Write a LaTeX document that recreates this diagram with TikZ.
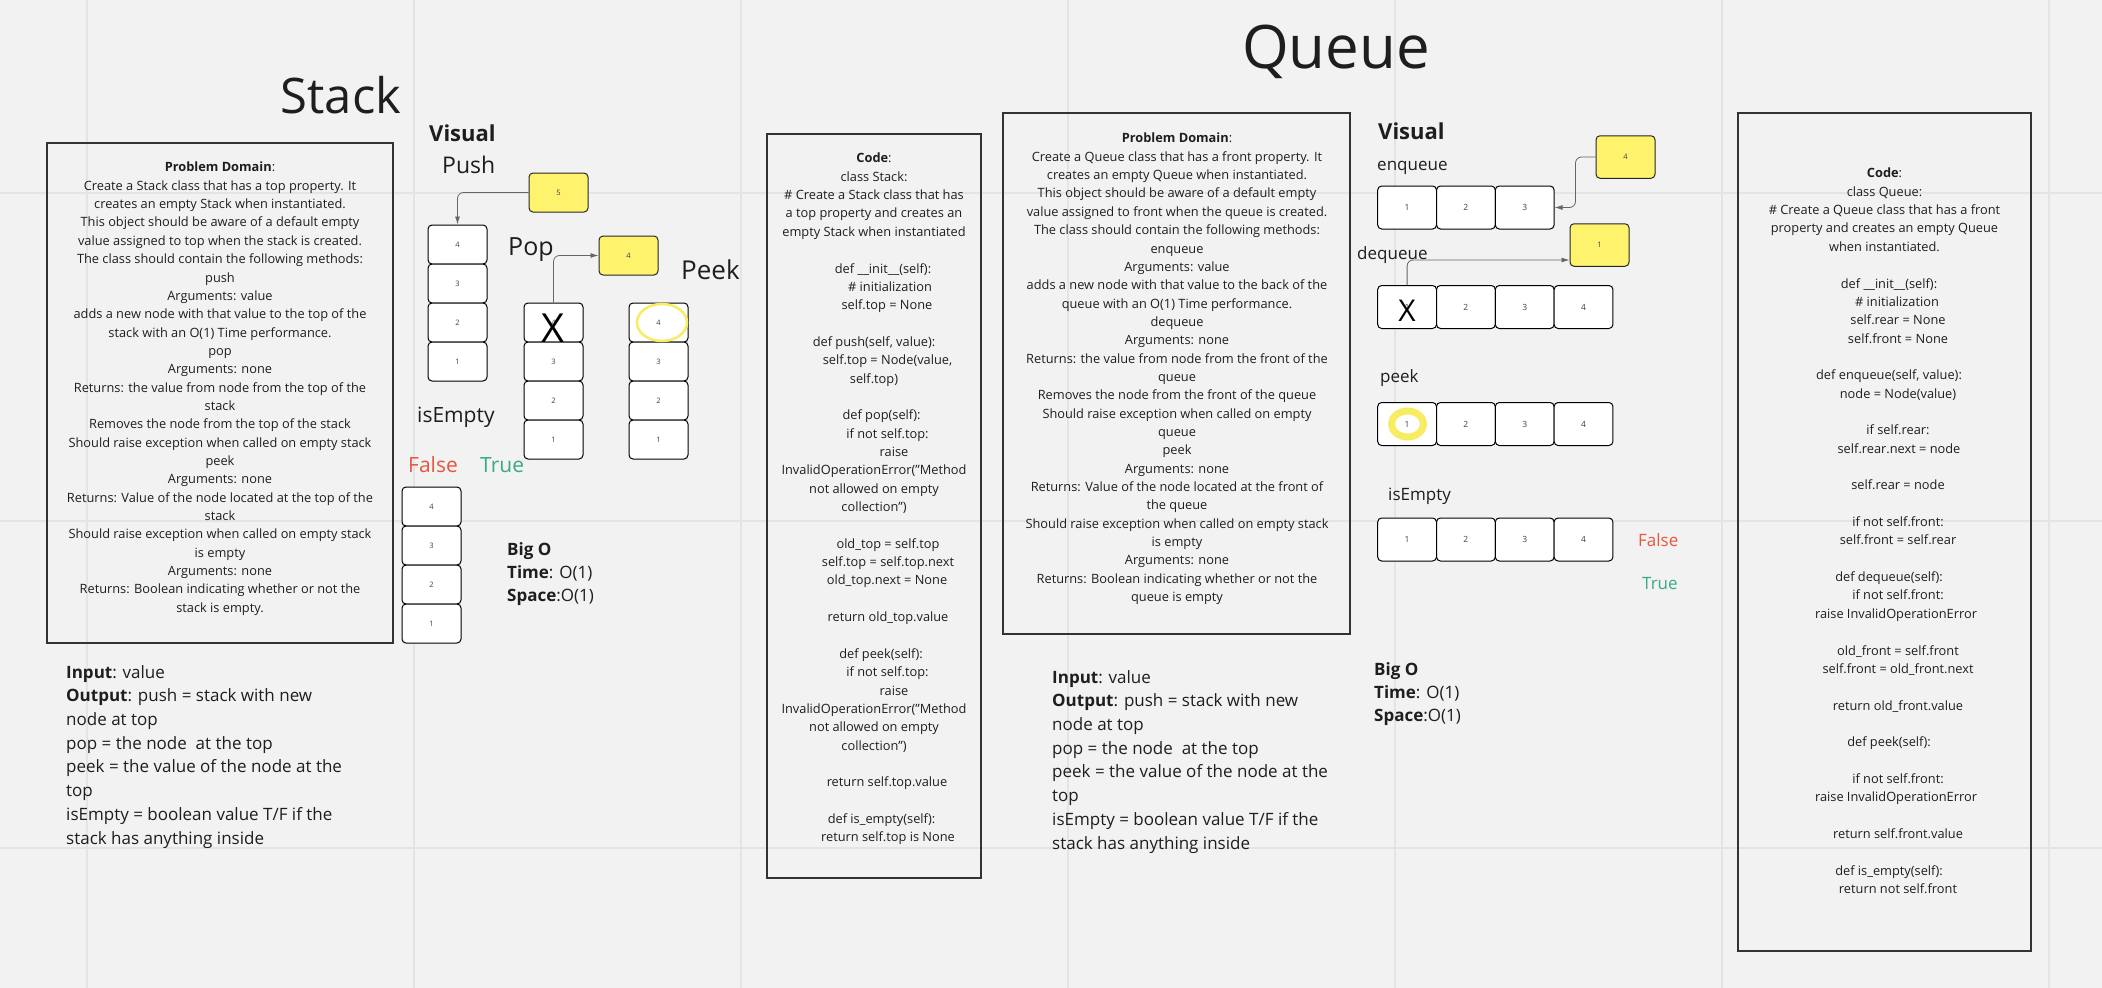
\documentclass[tikz,border=0pt]{standalone}
\usepackage{fontspec}
\setmainfont{Open Sans}
\usepackage{tikz}
\usepackage[dvipsnames]{xcolor}
\usetikzlibrary{calc}
\usetikzlibrary{arrows.meta}
\usetikzlibrary{positioning}

\definecolor{board}{HTML}{F2F2F2}
\definecolor{gridline}{HTML}{E4E4E4}
\definecolor{ink}{HTML}{1E1E1E}
\definecolor{sticky}{HTML}{FFF36D}
\definecolor{ringyellow}{HTML}{F8EC62}
\definecolor{falsered}{HTML}{E8563F}
\definecolor{truegreen}{HTML}{3AA98A}

\newcommand{\codeind}[1]{\hspace*{#1pt}}
\newcommand{\dq}{\symbol{34}}

\tikzset{
  cell/.style={draw=black, fill=white, rounded corners=4pt, line width=1pt,
    minimum width=59pt, minimum height=39pt, inner sep=0pt, text=black!75,
    font=\fontsize{7.5}{9}\selectfont},
  qcell/.style={cell, minimum width=58.8pt, minimum height=43pt,
    font=\fontsize{8.5}{10}\selectfont},
  newval/.style={cell, fill=sticky, draw=black!85},
  textbox/.style={draw=black!80, line width=1.3pt},
  bodytext/.style={align=center, anchor=north, inner sep=0pt, text=ink,
    font=\fontsize{12.8}{18.35}\selectfont},
  notes/.style={align=left, anchor=north west, inner sep=0pt, text=ink,
    font=\fontsize{17}{23.7}\selectfont},
  opname/.style={anchor=base west, inner sep=0pt, text=ink},
  crossout/.style={anchor=base, inner sep=0pt, text=black},
  conn/.style={draw=black!60, line width=0.8pt, rounded corners=6pt,
    -{Latex[length=8pt,width=5pt]}}
}

\begin{document}
\begin{tikzpicture}[x=1pt,y=-1pt]
    \useasboundingbox (0,0) rectangle (2102,988);
    \fill[board] (0,0) rectangle (2102,988);
    \foreach \gx in {87,414,741,1068,1395,1722,2049}
      \draw[gridline, line width=1.5pt] (\gx,0) -- (\gx,988);
    \foreach \gy in {193,521,848}
      \draw[gridline, line width=1.5pt] (0,\gy) -- (2102,\gy);

    % stack side
    \node[anchor=base, inner sep=0pt, text=ink, font=\fontsize{49}{55}\selectfont] (stacktitle) at (341,113) {Stack};

    \node[textbox, minimum width=346pt, minimum height=500pt] (stackpd) at (220,393) {};
    \node[bodytext] (stackpdtext) at (220,162) {\textbf{Problem Domain}:\\
      Create a Stack class that has a top property. It\\
      creates an empty Stack when instantiated.\\
      This object should be aware of a default empty\\
      value assigned to top when the stack is created.\\
      The class should contain the following methods:\\
      push\\
      Arguments: value\\
      adds a new node with that value to the top of the\\
      stack with an O(1) Time performance.\\
      pop\\
      Arguments: none\\
      Returns: the value from node from the top of the\\
      stack\\
      Removes the node from the top of the stack\\
      Should raise exception when called on empty stack\\
      peek\\
      Arguments: none\\
      Returns: Value of the node located at the top of the\\
      stack\\
      Should raise exception when called on empty stack\\
      is empty\\
      Arguments: none\\
      Returns: Boolean indicating whether or not the\\
      stack is empty.};

    \node[notes] (stackio) at (66,665) {\textbf{Input}: value\\
      \textbf{Output}: push = stack with new\\
      node at top\\
      pop = the node\ \ at the top\\
      peek = the value of the node at the\\
      top\\
      isEmpty = boolean value T/F if the\\
      stack has anything inside};

    \node[opname, font=\fontsize{22}{26}\selectfont\bfseries] (stackvisual) at (429,141) {Visual};
    \node[opname, font=\fontsize{23}{27}\selectfont] (pushname) at (442,173) {Push};
    \node[opname, font=\fontsize{25}{29}\selectfont] (popname) at (508,255) {Pop};
    \node[opname, font=\fontsize{26}{30}\selectfont] (peekname) at (681,279) {Peek};
    \node[opname, font=\fontsize{21}{25}\selectfont] (emptyname) at (417,422) {isEmpty};
    \node[opname, text=falsered, font=\fontsize{21}{25}\selectfont] (stackfalse) at (408,472) {False};
    \node[opname, text=truegreen, font=\fontsize{21}{25}\selectfont] (stacktrue) at (480,472) {True};

    \node[newval] (pushnew) at (558.5,192.5) {5};
    \foreach \v [count=\i] in {4,3,2,1}
      \node[cell] (push\v) at (457.5,{244.5+39*(\i-1)}) {\v};
    \draw[conn] (pushnew.west) -| (push4.north);

    \node[newval] (popout) at (628.5,255.5) {4};
    \foreach \v [count=\i] in {4,3,2,1}
      \node[cell] (pop\v) at (553.5,{322.5+39*(\i-1)}) {\v};
    \node[crossout, font=\fontsize{40}{40}\selectfont] (popx) at (553.5,342) {X};
    \draw[conn] (pop4.north) |- (popout.west);

    \foreach \v [count=\i] in {4,3,2,1}
      \node[cell] (peek\v) at (658.5,{322.5+39*(\i-1)}) {\v};
    \draw[ringyellow, line width=2.5pt] (662,322.5) ellipse (25pt and 18.5pt);

    \foreach \v [count=\i] in {4,3,2,1}
      \node[cell] (emp\v) at (431.5,{506.5+39*(\i-1)}) {\v};

    \node[notes, font=\fontsize{17}{23.3}\selectfont] (stackbigo) at (507,542) {\textbf{Big O}\\
      \textbf{Time}: O(1)\\
      \textbf{Space}:O(1)};

    \node[textbox, minimum width=214pt, minimum height=744pt] (stackcode) at (874,506) {};
    \node[bodytext] (stackcodetext) at (874,153) {\textbf{Code}:\\
      class Stack:\\
      \# Create a Stack class that has\\
      a top property and creates an\\
      empty Stack when instantiated\\[18.35pt]
      \codeind{18}def \_\_init\_\_(self):\\
      \codeind{32}\# initialization\\
      \codeind{26}self.top = None\\[18.35pt]
      def push(self, value):\\
      \codeind{27}self.top = Node(value,\\
      self.top)\\[18.35pt]
      \codeind{15}def pop(self):\\
      \codeind{27}if not self.top:\\
      \codeind{40}raise\\
      InvalidOperationError(\dq Method\\
      not allowed on empty\\
      collection\dq)\\[18.35pt]
      \codeind{28}old\_top = self.top\\
      \codeind{28}self.top = self.top.next\\
      \codeind{26}old\_top.next = None\\[18.35pt]
      \codeind{28}return old\_top.value\\[18.35pt]
      \codeind{14}def peek(self):\\
      \codeind{27}if not self.top:\\
      \codeind{40}raise\\
      InvalidOperationError(\dq Method\\
      not allowed on empty\\
      collection\dq)\\[18.35pt]
      \codeind{26}return self.top.value\\[18.35pt]
      \codeind{15}def is\_empty(self):\\
      \codeind{28}return self.top is None};

    % queue side
    \node[anchor=base, inner sep=0pt, text=ink, font=\fontsize{60}{66}\selectfont] (queuetitle) at (1336,68) {Queue};

    \node[textbox, minimum width=347pt, minimum height=521pt] (queuepd) at (1176.5,373.5) {};
    \node[bodytext] (queuepdtext) at (1177,133) {\textbf{Problem Domain}:\\
      Create a Queue class that has a front property. It\\
      creates an empty Queue when instantiated.\\
      This object should be aware of a default empty\\
      value assigned to front when the queue is created.\\
      The class should contain the following methods:\\
      enqueue\\
      Arguments: value\\
      adds a new node with that value to the back of the\\
      queue with an O(1) Time performance.\\
      dequeue\\
      Arguments: none\\
      Returns: the value from node from the front of the\\
      queue\\
      Removes the node from the front of the queue\\
      Should raise exception when called on empty\\
      queue\\
      peek\\
      Arguments: none\\
      Returns: Value of the node located at the front of\\
      the queue\\
      Should raise exception when called on empty stack\\
      is empty\\
      Arguments: none\\
      Returns: Boolean indicating whether or not the\\
      queue is empty};

    \node[notes] (queueio) at (1052,670) {\textbf{Input}: value\\
      \textbf{Output}: push = stack with new\\
      node at top\\
      pop = the node\ \ at the top\\
      peek = the value of the node at the\\
      top\\
      isEmpty = boolean value T/F if the\\
      stack has anything inside};

    \node[opname, font=\fontsize{22}{26}\selectfont\bfseries] (queuevisual) at (1378,139) {Visual};
    \node[opname, font=\fontsize{17}{20}\selectfont] (enqname) at (1377,170) {enqueue};
    \node[opname, font=\fontsize{17}{20}\selectfont] (deqname) at (1357,259) {dequeue};
    \node[opname, font=\fontsize{17}{20}\selectfont] (qpeekname) at (1380,382) {peek};
    \node[opname, font=\fontsize{17}{20}\selectfont] (qemptyname) at (1388,500) {isEmpty};
    \node[opname, text=falsered, font=\fontsize{17}{20}\selectfont] (queuefalse) at (1638,546) {False};
    \node[opname, text=truegreen, font=\fontsize{17}{20}\selectfont] (queuetrue) at (1642,589) {True};

    \node[newval, minimum height=42.5pt] (qenew) at (1625.5,157) {4};
    \foreach \v in {1,2,3}
      \node[qcell] (qe\v) at ({1407.1+58.8*(\v-1)},207.5) {\v};
    \draw[conn] (qenew.west) -- ++(-20,0) |- (qe3.east);

    \node[newval, minimum height=42.5pt] (qdout) at (1599.5,245) {1};
    \foreach \v in {1,...,4}
      \node[qcell] (qd\v) at ({1407.1+58.8*(\v-1)},307) {\v};
    \node[crossout, font=\fontsize{30}{30}\selectfont] (deqx) at (1407.1,321) {X};
    \draw[conn] (qd1.north) |- ([yshift=-15pt]qdout.west);

    \foreach \v in {1,...,4}
      \node[qcell] (qp\v) at ({1407.1+58.8*(\v-1)},424) {\v};
    \draw[ringyellow, line width=7pt] (1407.5,424) ellipse (16pt and 13pt);

    \foreach \v in {1,...,4}
      \node[qcell] (qi\v) at ({1407.1+58.8*(\v-1)},539.5) {\v};

    \node[notes, font=\fontsize{17}{23.3}\selectfont] (queuebigo) at (1374,662) {\textbf{Big O}\\
      \textbf{Time}: O(1)\\
      \textbf{Space}:O(1)};

    \node[textbox, minimum width=293pt, minimum height=838pt] (queuecode) at (1884.5,532) {};
    \node[bodytext] (queuecodetext) at (1884.5,168) {\textbf{Code}:\\
      class Queue:\\
      \# Create a Queue class that has a front\\
      property and creates an empty Queue\\
      when instantiated.\\[18.35pt]
      \codeind{9}def \_\_init\_\_(self):\\
      \codeind{25}\# initialization\\
      \codeind{27}self.rear = None\\
      \codeind{27}self.front = None\\[18.35pt]
      \codeind{9}def enqueue(self, value):\\
      \codeind{27}node = Node(value)\\[18.35pt]
      \codeind{27}if self.rear:\\
      \codeind{29}self.rear.next = node\\[18.35pt]
      \codeind{27}self.rear = node\\[18.35pt]
      \codeind{27}if not self.front:\\
      \codeind{27}self.front = self.rear\\[18.35pt]
      \codeind{9}def dequeue(self):\\
      \codeind{27}if not self.front:\\
      \codeind{23}raise InvalidOperationError\\[18.35pt]
      \codeind{27}old\_front = self.front\\
      \codeind{27}self.front = old\_front.next\\[18.35pt]
      \codeind{27}return old\_front.value\\[18.35pt]
      \codeind{9}def peek(self):\\[18.35pt]
      \codeind{27}if not self.front:\\
      \codeind{23}raise InvalidOperationError\\[18.35pt]
      \codeind{27}return self.front.value\\[18.35pt]
      \codeind{9}def is\_empty(self):\\
      \codeind{27}return not self.front};
\end{tikzpicture}
\end{document}
